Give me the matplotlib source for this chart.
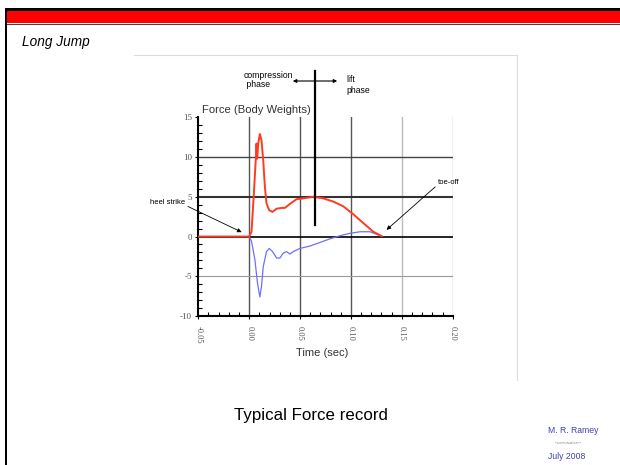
import matplotlib
matplotlib.use("Agg")
import matplotlib.pyplot as plt
from matplotlib.lines import Line2D
from matplotlib.patches import Rectangle
from matplotlib.ticker import MultipleLocator

# force record (time in s, force in body weights)
time_red = [-0.05, 0.0, 0.0023, 0.0046, 0.0066, 0.0072, 0.0079, 0.0089, 0.0105,
            0.0121, 0.0138, 0.0154, 0.0170, 0.0197, 0.0230, 0.0269, 0.0318,
            0.0351, 0.0400, 0.0466, 0.0531, 0.0630, 0.0728, 0.0826, 0.0925,
            0.1023, 0.1121, 0.1220, 0.1302]
force_red = [0.0, 0.0, 0.6, 5.4, 10.0, 11.7, 9.8, 11.7, 12.9,
             12.1, 9.6, 6.3, 4.2, 3.3, 3.1, 3.5, 3.6,
             3.6, 4.1, 4.7, 4.8, 5.0, 4.8, 4.4, 3.8,
             2.8, 1.7, 0.6, 0.05]

time_blue = [0.0, 0.0023, 0.0056, 0.0082, 0.0105, 0.0121, 0.0138, 0.0170,
             0.0197, 0.0230, 0.0269, 0.0302, 0.0334, 0.0367, 0.0400, 0.0433,
             0.0498, 0.0597, 0.0695, 0.0793, 0.0892, 0.0990, 0.1089, 0.1187,
             0.1269, 0.1302]
force_blue = [0.0, -0.6, -2.9, -5.9, -7.6, -6.3, -3.8, -1.9,
              -1.5, -1.9, -2.7, -2.7, -2.1, -1.9, -2.2, -1.9,
              -1.5, -1.2, -0.75, -0.3, 0.1, 0.4, 0.6, 0.6,
              0.2, 0.05]

x_ticks = [-0.05, 0.0, 0.05, 0.10, 0.15, 0.20]
x_labels = ["-0.05", "0.00", "0.05", "0.10", "0.15", "0.20"]
y_ticks = [-10, -5, 0, 5, 10, 15]

W, H = 620, 465
plt.rcParams["font.family"] = ["Liberation Sans", "DejaVu Sans"]
fig = plt.figure(figsize=(W / 100, H / 100), dpi=100)


def fx(px):
    return px / W


def fy(py):
    return 1 - py / H


# slide frame: black edge, red band
fig.add_artist(Rectangle((fx(5), fy(465)), fx(2.3), 1 - fy(465) - (1 - fy(8.3)),
                         transform=fig.transFigure, color="black", lw=0))
fig.add_artist(Rectangle((fx(5), fy(10.7)), 1, fy(8.3) - fy(10.7),
                         transform=fig.transFigure, color="black", lw=0))
fig.add_artist(Rectangle((fx(7.3), fy(23.3)), 1, fy(10.7) - fy(23.3),
                         transform=fig.transFigure, color="#ff0000", lw=0))
fig.add_artist(Line2D([fx(7.3), 1], [fy(23.9)] * 2, transform=fig.transFigure,
                      color="#444444", lw=0.8))

# picture box edges
fig.add_artist(Line2D([fx(134), fx(517), fx(517)], [fy(55), fy(55), fy(380)],
                      transform=fig.transFigure, color="#dddddd", lw=0.8))

fig.text(fx(21.7), fy(42.3), "Long Jump", fontsize=9.8, style="italic",
         ha="left", va="center")

ax = fig.add_axes([fx(198.3), fy(316), fx(452.7) - fx(198.3), fy(117.3) - fy(316)])
ax.set_xlim(-0.05, 0.20)
ax.set_ylim(-10, 15)

# grid lines as on the original
for xv, c in [(0.0, "#555555"), (0.05, "#555555"), (0.10, "#555555"),
              (0.15, "#bbbbbb"), (0.20, "#bbbbbb")]:
    ax.axvline(xv, color=c, lw=1.0, zorder=1)
for yv, c, w in [(10, "#444444", 1.0), (5, "#333333", 1.5), (0, "black", 1.2),
                 (-5, "#999999", 0.8)]:
    ax.axhline(yv, color=c, lw=w, zorder=1)

ax.plot(time_blue, force_blue, color="#6f6fff", lw=0.9, zorder=3)
ax.plot(time_red, force_red, color="#ff3b1f", lw=1.4, zorder=4)

for s in ["top", "right"]:
    ax.spines[s].set_visible(False)
ax.spines["left"].set_linewidth(1.5)
ax.spines["bottom"].set_linewidth(1.5)

ax.set_xticks(x_ticks)
ax.set_xticklabels(x_labels, rotation=270, family=["Liberation Serif", "DejaVu Serif"],
                   fontsize=6, color="#555555")
ax.set_yticks(y_ticks)
ax.set_yticklabels([str(v) for v in y_ticks], family=["Liberation Serif", "DejaVu Serif"],
                   fontsize=6.5, color="#555555")
ax.xaxis.set_minor_locator(MultipleLocator(0.01))
ax.yaxis.set_minor_locator(MultipleLocator(1))
ax.tick_params(axis="both", which="major", length=2.5, width=0.8, direction="out", pad=2)
ax.tick_params(axis="both", which="minor", length=3, width=0.8, direction="in")
ax.tick_params(axis="x", which="major", pad=5)

fig.text(fx(202), fy(110), "Force (Body Weights)", fontsize=8.1, color="#333333",
         ha="left", va="center")
fig.text(fx(322), fy(353), "Time (sec)", fontsize=8, color="#333333",
         ha="center", va="center")

# phase marker and labels
fig.add_artist(Line2D([fx(315), fx(315)], [fy(71), fy(225)], transform=fig.transFigure,
                      color="black", lw=1.6, zorder=10))
fig.text(fx(243.5), fy(80), "compression\n phase", fontsize=6.2, ha="left", va="center",
         linespacing=1.0)
fig.text(fx(346.7), fy(85), "lift\nphase", fontsize=6.2, ha="left", va="center",
         linespacing=1.3)
ax.annotate("", xy=(fx(290), fy(81)), xytext=(fx(340), fy(81)),
            xycoords="figure fraction", textcoords="figure fraction",
            arrowprops=dict(arrowstyle="<|-|>", lw=0.8, color="black", mutation_scale=5))

ax.annotate("heel strike", xy=(-0.0074, 0.55), xytext=(fx(150), fy(203)),
            textcoords="figure fraction", fontsize=5.5, ha="left", va="center",
            annotation_clip=False,
            arrowprops=dict(arrowstyle="-|>", lw=0.6, color="black", mutation_scale=6,
                            shrinkA=0, shrinkB=0, relpos=(1.0, 0.2)))
ax.annotate("toe-off", xy=(0.135, 0.84), xytext=(fx(438), fy(183)),
            textcoords="figure fraction", fontsize=5.5, ha="left", va="center",
            annotation_clip=False,
            arrowprops=dict(arrowstyle="-|>", lw=0.6, color="black", mutation_scale=6,
                            shrinkA=0, shrinkB=0, relpos=(0.0, 0.3)))

fig.text(fx(310.8), fy(415), "Typical Force record", fontsize=12.2, ha="center",
         va="center")

fig.text(fx(573), fy(430), "M. R. Ramey", fontsize=6.2, color="#4040b0",
         ha="center", va="center")
fig.text(fx(568), fy(443), "Civil and Environmental Engineering\nUniversity of California, Davis",
         fontsize=1.2, color="#555555", ha="center", va="center")
fig.text(fx(547.7), fy(456), "July 2008", fontsize=6.2, color="#4040b0",
         ha="left", va="center")

fig.savefig("out.png", dpi=100)
